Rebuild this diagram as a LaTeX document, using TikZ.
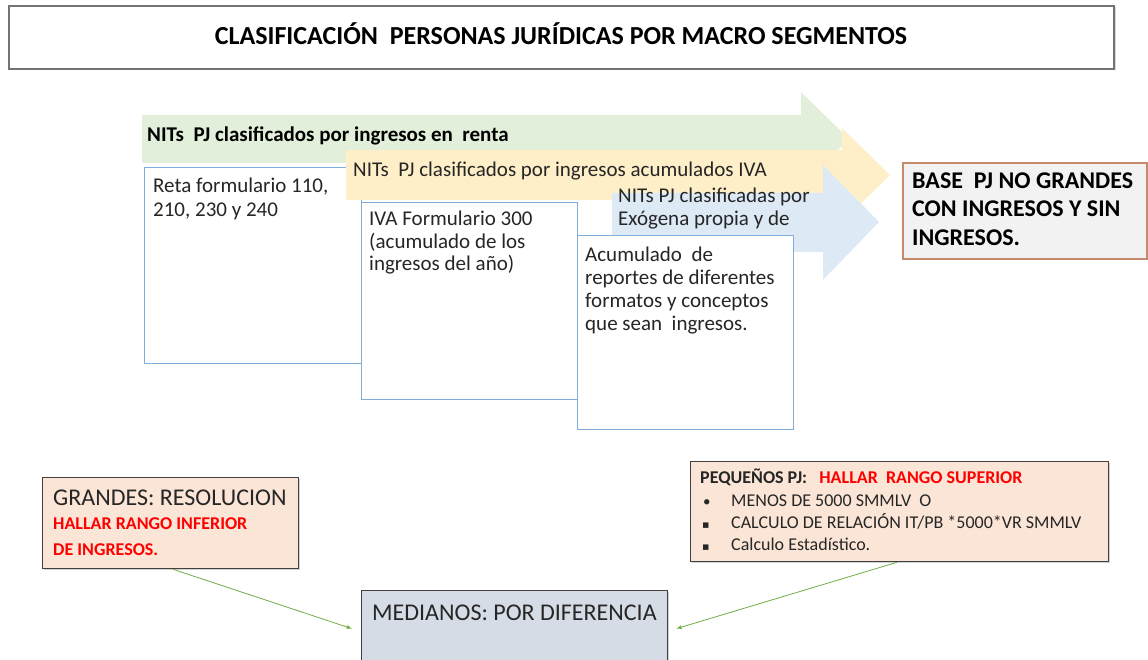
\documentclass[tikz,border=0pt]{standalone}
\usepackage{fontspec}
\setmainfont{Carlito}
\newfontfamily\symfont{DejaVu Sans}
\usetikzlibrary{shadows}
\definecolor{arrgreen}{HTML}{E2EFDA}
\definecolor{arryellow}{HTML}{FEEFC8}
\definecolor{arrblue}{HTML}{DDEAF6}
\definecolor{boxblue}{HTML}{7FAEDD}
\definecolor{peach}{HTML}{FBE5D6}
\definecolor{medfill}{HTML}{D6DCE5}
\definecolor{basefill}{HTML}{F2F2F2}
\definecolor{baseborder}{HTML}{C5896B}
\definecolor{conngreen}{HTML}{70AD47}
\definecolor{txt}{HTML}{262626}
\definecolor{hred}{HTML}{FF0000}
\tikzset{
  frame/.style={draw, inner sep=0pt, anchor=north west},
  srcbox/.style={frame, draw=boxblue, line width=1.4pt, fill=white},
  segbox/.style={frame, draw=black!75, line width=1.3pt, drop shadow={opacity=0.35, shadow xshift=1.5pt, shadow yshift=-1.5pt}},
  txtblock/.style={inner sep=0pt, anchor=north west, align=left, text=txt},
  oneline/.style={inner sep=0pt, anchor=base west, text=txt},
  conn/.style={draw=conngreen, line width=0.8pt, -latex}
}
\begin{document}
\begin{tikzpicture}[x=1pt,y=-1pt]
\useasboundingbox (0,0) rectangle (1148,660);
% title
\node[frame, draw=black!55, line width=2pt, fill=white, minimum width=1105pt, minimum height=63pt,
  drop shadow={opacity=0.3, shadow xshift=1.5pt, shadow yshift=-1.5pt}] (title) at (8,5) {};
\node[inner sep=0pt, anchor=base, font=\fontsize{26}{30}\selectfont\bfseries, text=black] (titletext) at (561,45) {CLASIFICACIÓN\ \ PERSONAS JURÍDICAS POR MACRO SEGMENTOS};
% green arrow
\fill[arrgreen] (142,115) -- (801,115) -- (801,92) -- (849,139) -- (801,186) -- (801,163) -- (142,163) -- cycle;
\node[oneline, font=\fontsize{21}{24}\selectfont\bfseries, text=black] (greentext) at (147,142) {NITs\ \ PJ clasificados por ingresos en\ \ renta};
% Reta box
\node[srcbox, minimum width=217pt, minimum height=196pt] (reta) at (144,167) {};
\node[txtblock, font=\fontsize{21}{23.5}\selectfont] (retatext) at (153,178) {Reta formulario 110,\\210, 230 y 240};
% yellow arrow
\fill[arryellow] (346,150) -- (842,150) -- (842,128) -- (890,175) -- (842,222) -- (842,200) -- (346,200) -- cycle;
\node[oneline, font=\fontsize{21}{24}\selectfont] (yellowtext) at (353,177) {NITs\ \ PJ clasificados por ingresos acumulados IVA};
% IVA box
\node[srcbox, minimum width=216pt, minimum height=197pt] (iva) at (361,202) {};
\node[txtblock, font=\fontsize{21}{22.5}\selectfont] (ivatext) at (369,211) {IVA Formulario 300\\(acumulado de los\\ingresos del año)};
% blue arrow
\fill[arrblue] (612,193) -- (823,193) -- (823,165) -- (879,222) -- (823,280) -- (823,252) -- (612,252) -- cycle;
\node[txtblock, font=\fontsize{21}{23}\selectfont] (bluetext) at (618,188) {NITs PJ clasificadas por\\Exógena propia y de};
% Acumulado box
\node[srcbox, minimum width=216pt, minimum height=194pt] (acum) at (577,235) {};
\node[txtblock, font=\fontsize{21}{22.8}\selectfont] (acumtext) at (585,247) {Acumulado\ \ de\\reportes de diferentes\\formatos y conceptos\\que sean\ \ ingresos.};
% Base box
\node[frame, draw=baseborder, line width=1.6pt, fill=basefill, minimum width=244pt, minimum height=96pt,
  drop shadow={opacity=0.3, shadow xshift=1.5pt, shadow yshift=-1.5pt}] (base) at (902,162) {};
\node[txtblock, font=\fontsize{24}{28.5}\selectfont\bfseries, text=black] (basetext) at (912,172.5) {BASE\ \ PJ NO GRANDES\\CON INGRESOS Y SIN\\INGRESOS.};
% Grandes
\node[segbox, fill=peach, minimum width=256pt, minimum height=91pt] (grandes) at (42,477) {};
\node[oneline, font=\fontsize{24}{28}\selectfont] (grandestext) at (53,505) {GRANDES: RESOLUCION};
\node[oneline, font=\fontsize{18}{21}\selectfont\bfseries, text=hred] (grandesred1) at (53,529) {HALLAR RANGO INFERIOR};
\node[oneline, font=\fontsize{18}{21}\selectfont\bfseries, text=hred] (grandesred2) at (53,555) {DE INGRESOS.};
% Pequenos
\node[segbox, fill=peach, minimum width=418pt, minimum height=100pt] (peq) at (690,461) {};
\node[oneline, font=\fontsize{18}{21}\selectfont] (peqhead) at (700,483) {\textbf{PEQUEÑOS PJ:}\ \ \ \textcolor{hred}{\textbf{HALLAR\ \ RANGO SUPERIOR}}};
\node[oneline, font=\fontsize{15}{18}\selectfont] (b1) at (703,506) {•};
\node[oneline, font=\fontsize{11}{13}\selectfont\symfont] (b2) at (702,528) {▪};
\node[oneline, font=\fontsize{11}{13}\selectfont\symfont] (b3) at (702,550) {▪};
\node[oneline, font=\fontsize{18}{21}\selectfont] (l1) at (731,506) {MENOS DE 5000 SMMLV\ \ O};
\node[oneline, font=\fontsize{18}{21}\selectfont] (l2) at (731,528) {CALCULO\ DE RELACIÓN\ IT/PB *5000*VR SMMLV};
\node[oneline, font=\fontsize{18}{21}\selectfont] (l3) at (731,550) {Calculo Estadístico.};
% Medianos
\node[segbox, fill=medfill, minimum width=306pt, minimum height=72pt] (med) at (361,590) {};
\node[oneline, font=\fontsize{24}{28}\selectfont] (medtext) at (372,620) {MEDIANOS: POR DIFERENCIA};
% connectors
\coordinate (gstart) at ([xshift=131pt]grandes.south west);
\coordinate (pstart) at ([xshift=207pt]peq.south west);
\draw[conn] (gstart) -- ([xshift=-9pt,yshift=-2pt]med.west);
\draw[conn] (pstart) -- ([xshift=8pt,yshift=-2pt]med.east);
\end{tikzpicture}
\end{document}
